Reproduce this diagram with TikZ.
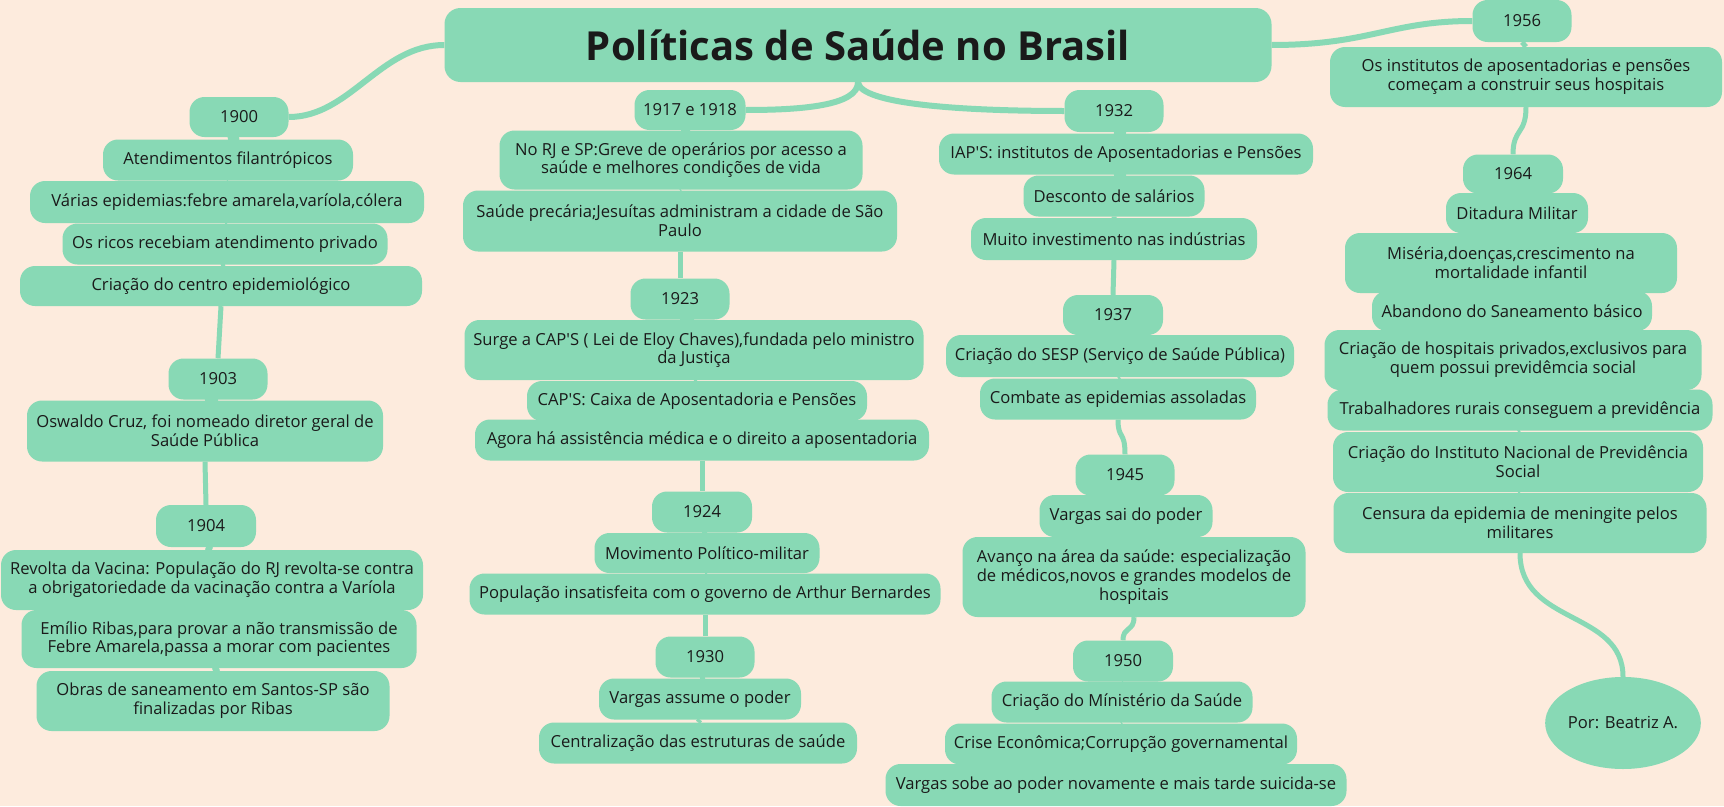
\documentclass[tikz,border=0pt]{standalone}
\usepackage{fontspec}
\setmainfont{Open Sans}
\usetikzlibrary{shapes.geometric,backgrounds}
\definecolor{mint}{RGB}{136,217,181}
\definecolor{paper}{RGB}{253,235,221}
\definecolor{ink}{RGB}{26,26,26}
\newcommand\bodyfont{\fontsize{16.6}{18.7}\selectfont}
\newcommand\apos{\textquotesingle}
\tikzset{
  topic/.style={fill=mint, rounded corners=15pt, align=center, inner sep=0pt, text=ink, font=\bodyfont},
  link/.style={draw=mint, line width=6pt},
  stem/.style={draw=mint, line width=5pt}
}

\begin{document}
\begin{tikzpicture}[x=1pt,y=-1pt]
\useasboundingbox (0,0) rectangle (1724,806);

\node[topic, rounded corners=16pt, minimum width=827, minimum height=74, font=\fontsize{40}{44}\selectfont\bfseries] (title) at (858,45) {Políticas de Saúde no Brasil};

% 1900 - 1904
\node[topic, minimum width=99, minimum height=40] (y1900) at (239,117) {1900};
\node[topic, minimum width=250, minimum height=41] (atend) at (228,160) {Atendimentos filantrópicos};
\node[topic, minimum width=394, minimum height=42] (epid) at (227,202) {Várias epidemias:febre amarela,varíola,cólera};
\node[topic, minimum width=325, minimum height=41] (ricos) at (225,244) {Os ricos recebiam atendimento privado};
\node[topic, minimum width=402, minimum height=40] (centro) at (221,286) {Criação do centro epidemiológico};
\node[topic, minimum width=99, minimum height=41] (y1903) at (218,379) {1903};
\node[topic, minimum width=356, minimum height=61] (oswaldo) at (205,431) {Oswaldo Cruz, foi nomeado diretor geral de\\Saúde Pública};
\node[topic, minimum width=100, minimum height=42] (y1904) at (206,526) {1904};
\node[topic, minimum width=422, minimum height=60] (revolta) at (212,580) {Revolta da Vacina: População do RJ revolta-se contra\\a obrigatoriedade da vacinação contra a Varíola};
\node[topic, minimum width=395, minimum height=58] (emilio) at (219,639) {Emílio Ribas,para provar a não transmissão de\\Febre Amarela,passa a morar com pacientes};
\node[topic, minimum width=353, minimum height=60] (obras) at (213,701) {Obras de saneamento em Santos-SP são\\finalizadas por Ribas};

% 1917 - 1930
\node[topic, minimum width=111, minimum height=40] (y1917) at (690,110) {1917 e 1918};
\node[topic, minimum width=363, minimum height=59] (greve) at (681,160) {No RJ e SP:Greve de operários por acesso a\\saúde e melhores condições de vida};
\node[topic, minimum width=434, minimum height=61] (precaria) at (680,221) {Saúde precária;Jesuítas administram a cidade de São\\Paulo};
\node[topic, minimum width=99, minimum height=41] (y1923) at (680,299) {1923};
\node[topic, minimum width=459, minimum height=60] (surge) at (694,350) {Surge a CAP\apos S ( Lei de Eloy Chaves),fundada pelo ministro\\da Justiça};
\node[topic, minimum width=340, minimum height=40] (caixa) at (697,401) {CAP\apos S: Caixa de Aposentadoria e Pensões};
\node[topic, minimum width=454, minimum height=41] (agora) at (702,440) {Agora há assistência médica e o direito a aposentadoria};
\node[topic, minimum width=100, minimum height=41] (y1924) at (702,512) {1924};
\node[topic, minimum width=225, minimum height=40] (movimento) at (707,553) {Movimento Político-militar};
\node[topic, minimum width=471, minimum height=41] (populacao) at (705,594) {População insatisfeita com o governo de Arthur Bernardes};
\node[topic, minimum width=99, minimum height=41] (y1930) at (705,657) {1930};
\node[topic, minimum width=202, minimum height=41] (assume) at (700,699) {Vargas assume o poder};
\node[topic, minimum width=318, minimum height=41] (central) at (698,743) {Centralização das estruturas de saúde};

% 1932 - 1950
\node[topic, minimum width=99, minimum height=42] (y1932) at (1114,111) {1932};
\node[topic, minimum width=374, minimum height=41] (iaps) at (1126,154) {IAP\apos S: institutos de Aposentadorias e Pensões};
\node[topic, minimum width=181, minimum height=41] (desconto) at (1114,196) {Desconto de salários};
\node[topic, minimum width=286, minimum height=42] (muito) at (1114,239) {Muito investimento nas indústrias};
\node[topic, minimum width=100, minimum height=40] (y1937) at (1113,315) {1937};
\node[topic, minimum width=348, minimum height=42] (sesp) at (1120,356) {Criação do SESP (Serviço de Saúde Pública)};
\node[topic, minimum width=276, minimum height=41] (combate) at (1118,399) {Combate as epidemias assoladas};
\node[topic, minimum width=99, minimum height=41] (y1945) at (1125,475) {1945};
\node[topic, minimum width=173, minimum height=42] (sai) at (1126,516) {Vargas sai do poder};
\node[topic, minimum width=343, minimum height=80] (avanco) at (1134,577) {Avanço na área da saúde: especialização\\de médicos,novos e grandes modelos de\\hospitais};
\node[topic, minimum width=100, minimum height=41] (y1950) at (1123,661) {1950};
\node[topic, minimum width=261, minimum height=41] (ministerio) at (1122,702) {Criação do Mínistério da Saúde};
\node[topic, minimum width=352, minimum height=41] (crise) at (1121,744) {Crise Econômica;Corrupção governamental};
\node[topic, minimum width=461, minimum height=42] (sobe) at (1116,785) {Vargas sobe ao poder novamente e mais tarde suicida-se};

% 1956 - 1964
\node[topic, minimum width=99, minimum height=42] (y1956) at (1522,21) {1956};
\node[topic, minimum width=392, minimum height=60] (institutos) at (1526,77) {Os institutos de aposentadorias e pensões\\começam a construir seus hospitais};
\node[topic, minimum width=100, minimum height=39] (y1964) at (1513,174) {1964};
\node[topic, minimum width=142, minimum height=40] (ditadura) at (1517,213) {Ditadura Militar};
\node[topic, minimum width=332, minimum height=60] (miseria) at (1511,263) {Miséria,doenças,crescimento na\\mortalidade infantil};
\node[topic, minimum width=280, minimum height=40] (abandono) at (1512,311) {Abandono do Saneamento básico};
\node[topic, minimum width=377, minimum height=60] (hospitais) at (1513,360) {Criação de hospitais privados,exclusivos para\\quem possui previdêmcia social};
\node[topic, minimum width=385, minimum height=41] (rurais) at (1520,410) {Trabalhadores rurais conseguem a previdência};
\node[topic, minimum width=370, minimum height=60] (inps) at (1518,462) {Criação do Instituto Nacional de Previdência\\Social};
\node[topic, minimum width=373, minimum height=60] (censura) at (1520,523) {Censura da epidemia de meningite pelos\\militares};
\node[topic, ellipse, minimum width=152, minimum height=92] (autora) at (1623,723) {Por: Beatriz A.};

\begin{pgfonlayer}{background}
\fill[paper] (0,0) rectangle (1724,806);

% from the title
\draw[link] (title.west) .. controls (380,45) and (350,117) .. (y1900.east);
\draw[link] (title.south) .. controls (858,106) and (800,110) .. (y1917.east);
\draw[link] (title.south) .. controls (860,104) and (960,111) .. (y1932.west);
\draw[link] (title.east) .. controls (1370,45) and (1390,21) .. (y1956.west);

% inside the branches
\draw[stem] (y1900.south) -- (atend.north) (atend.south) -- (epid.north) (epid.south) -- (ricos.north) (ricos.south) -- (centro.north);
\draw[stem] (centro.south) -- (y1903.north);
\draw[stem] (y1903.south) -- (oswaldo.north);
\draw[stem] (oswaldo.south) -- (y1904.north);
\draw[stem] (y1904.south) -- (revolta.north) (revolta.south) -- (emilio.north) (emilio.south) -- (obras.north);

\draw[stem] (y1917.south) -- (greve.north) (greve.south) -- (precaria.north);
\draw[stem] (precaria.south) -- (y1923.north);
\draw[stem] (y1923.south) -- (surge.north) (surge.south) -- (caixa.north) (caixa.south) -- (agora.north);
\draw[stem] (agora.south) -- (y1924.north);
\draw[stem] (y1924.south) -- (movimento.north) (movimento.south) -- (populacao.north);
\draw[stem] (populacao.south) -- (y1930.north);
\draw[stem] (y1930.south) -- (assume.north) (assume.south) -- (central.north);

\draw[stem] (y1932.south) -- (iaps.north) (iaps.south) -- (desconto.north) (desconto.south) -- (muito.north);
\draw[stem] (muito.south) -- (y1937.north);
\draw[stem] (y1937.south) -- (sesp.north) (sesp.south) -- (combate.north);
\draw[stem] (combate.south) .. controls (1118,440) and (1125,430) .. (y1945.north);
\draw[stem] (y1945.south) -- (sai.north) (sai.south) -- (avanco.north);
\draw[stem] (avanco.south) .. controls (1134,632) and (1123,626) .. (y1950.north);
\draw[stem] (y1950.south) -- (ministerio.north) (ministerio.south) -- (crise.north) (crise.south) -- (sobe.north);

\draw[stem] (y1956.south) -- (institutos.north);
\draw[stem] (institutos.south) .. controls (1526,135) and (1513,128) .. (y1964.north);
\draw[stem] (y1964.south) -- (ditadura.north) (ditadura.south) -- (miseria.north) (miseria.south) -- (abandono.north) (abandono.south) -- (hospitais.north) (hospitais.south) -- (rurais.north) (rurais.south) -- (inps.north) (inps.south) -- (censura.north);
\draw[stem] (censura.south) .. controls (1520,625) and (1623,610) .. (autora.north);
\end{pgfonlayer}
\end{tikzpicture}
\end{document}
